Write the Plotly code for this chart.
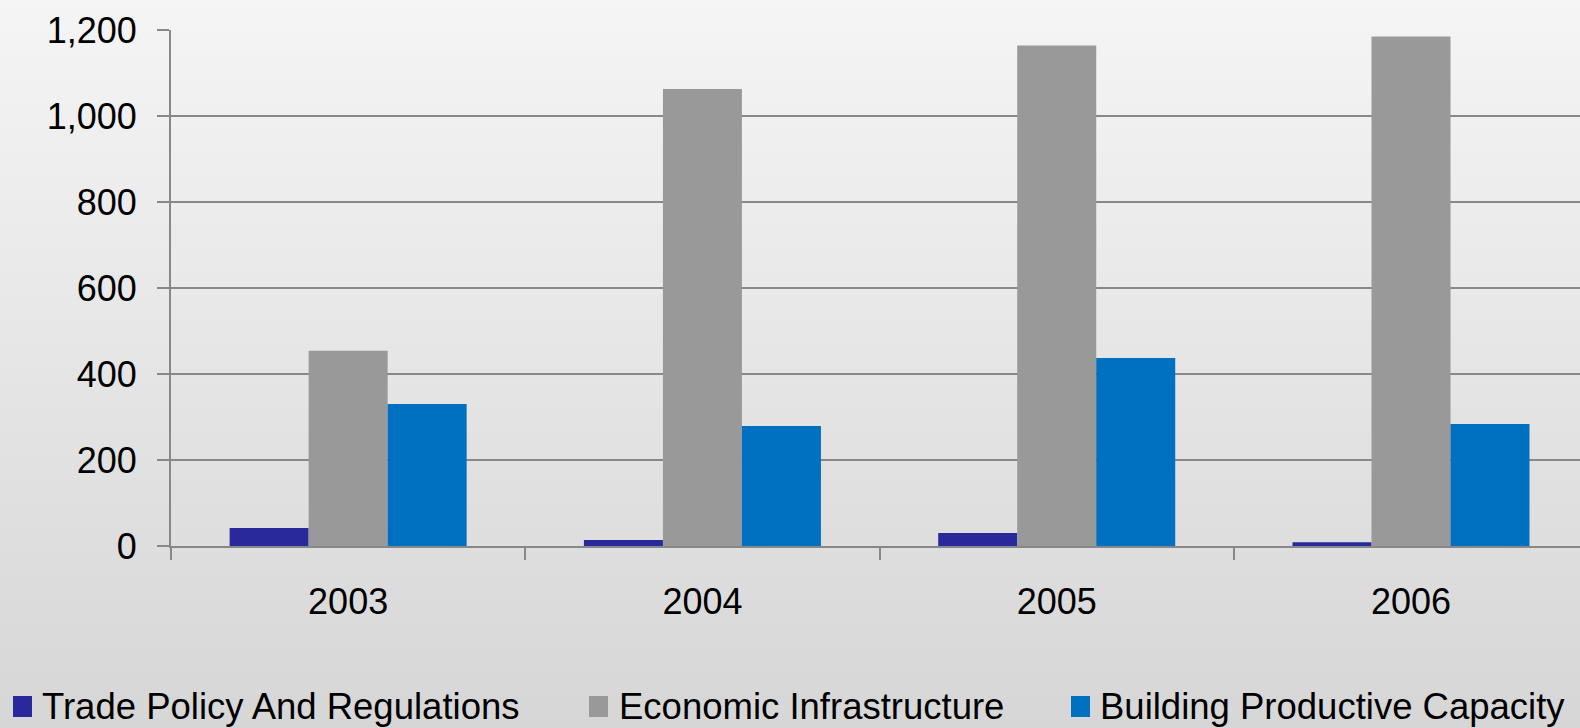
import plotly.graph_objects as go

years = ["2003", "2004", "2005", "2006"]
trade_policy = [42, 14, 30, 9]
economic_infra = [454, 1063, 1164, 1185]
building_capacity = [330, 279, 437, 284]

series_names = ["Trade Policy And Regulations", "Economic Infrastructure", "Building Productive Capacity"]
series_colors = ["#29299B", "#999999", "#0070C0"]

W, H = 1580, 728
L, R, T, B = 171, 0, 30, 182
PW, PH = W - L - R, H - T - B


def px_x(px):
    return (px - L) / PW


def px_y(py):
    return (H - B - py) / PH


fig = go.Figure()
for name, vals, col in zip(series_names, [trade_policy, economic_infra, building_capacity], series_colors):
    fig.add_trace(go.Bar(x=years, y=vals, name=name, showlegend=False,
                         marker=dict(color=col, line=dict(width=0))))

# vertical gradient background (style only)
shapes = []
n = 91
for i in range(n):
    y0p = i * H / n
    y1p = (i + 1) * H / n
    frac = (y0p + y1p) / 2 / H
    v = round(245 - (245 - 214) * frac)
    shapes.append(dict(type="rect", xref="paper", yref="paper", layer="below",
                       x0=px_x(-2), x1=px_x(W + 2),
                       y0=px_y(y1p + 0.5), y1=px_y(y0p - 0.5),
                       fillcolor=f"rgb({v},{v},{v})", line=dict(width=0)))

# legend drawn as swatches + text
legend_font = dict(family="Liberation Sans, Arial, sans-serif", size=36.5, color="black")
swatch_x = [13, 589, 1071]
text_x = [40, 617, 1098]
annotations = []
for name, col, sx, tx in zip(series_names, series_colors, swatch_x, text_x):
    shapes.append(dict(type="rect", xref="paper", yref="paper", layer="above",
                       x0=px_x(sx), x1=px_x(sx + 19), y0=px_y(717), y1=px_y(696),
                       fillcolor=col, line=dict(width=0)))
    annotations.append(dict(text=name, xref="paper", yref="paper", x=px_x(tx), y=px_y(706),
                            xanchor="left", yanchor="middle", showarrow=False, font=legend_font))

font = dict(family="Liberation Sans, Arial, sans-serif", size=36, color="black")
fig.update_layout(
    width=W, height=H,
    margin=dict(l=L, r=R, t=T, b=B, pad=0, autoexpand=False),
    paper_bgcolor="#d6d6d6", plot_bgcolor="rgba(0,0,0,0)",
    barmode="group", bargap=0.331, bargroupgap=0,
    shapes=shapes, annotations=annotations,
    font=font,
    showlegend=False,
    xaxis=dict(type="category", range=[-0.5, 3.477], tickson="boundaries",
               ticks="outside", ticklen=12, tickwidth=2, tickcolor="#888888",
               showline=True, linecolor="#888888", linewidth=2,
               showgrid=False, ticklabelstandoff=23, tickfont=font),
    yaxis=dict(range=[0, 1200], tickvals=[0, 200, 400, 600, 800, 1000, 1200],
               tickformat=",d", ticks="outside", ticklen=12, tickwidth=2, tickcolor="#888888",
               showline=True, linecolor="#888888", linewidth=2,
               showgrid=True, gridcolor="#888888", gridwidth=2, zeroline=False,
               ticklabelstandoff=13, tickfont=font),
)

fig.write_html("out.html")
